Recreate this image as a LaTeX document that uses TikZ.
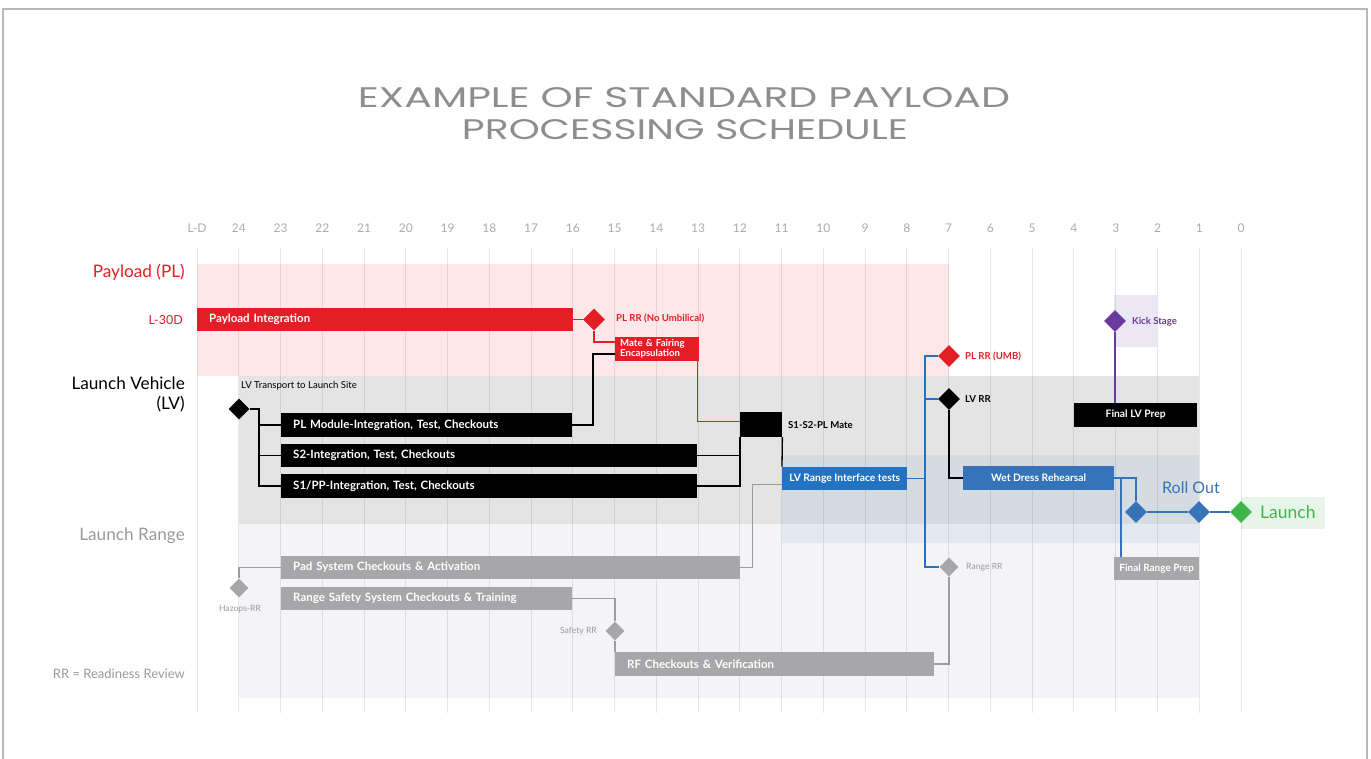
\documentclass[tikz,border=0pt]{standalone}
\usepackage{fontspec}
\usepackage{graphicx}
\setmainfont{Lato}
\newfontfamily\titlefont{Poppins}
\usetikzlibrary{shapes.geometric,calc}
\definecolor{plred}{HTML}{E41E26}
\definecolor{pinkband}{HTML}{FDE7E9}
\definecolor{grayband}{HTML}{E4E4E4}
\definecolor{rangeband}{HTML}{F4F4F7}
\definecolor{lvblue}{HTML}{2373C2}
\definecolor{wdblue}{HTML}{3574B8}
\definecolor{bargray}{HTML}{A7A7AA}
\definecolor{linegray}{HTML}{9C9C9F}
\definecolor{txtgray}{HTML}{9A9A9C}
\definecolor{axisgray}{HTML}{ABABAD}
\definecolor{kpurple}{HTML}{6B3A9E}
\definecolor{lavender}{HTML}{ECE8F3}
\definecolor{lgreen}{HTML}{3DB54A}
\definecolor{lgreenbg}{HTML}{E7F5E8}
\definecolor{titlegray}{HTML}{8E8E91}
\begin{document}
\begin{tikzpicture}[x=1pt,y=-1pt,
  bar/.style={rectangle, anchor=west, minimum height=23.5pt, inner ysep=0pt, inner xsep=12pt, text=white, font=\bfseries\fontsize{11.5}{13}\selectfont, align=left},
  cbar/.style={rectangle, anchor=west, minimum height=23.5pt, inner sep=1pt, text=white, font=\bfseries\fontsize{10.3}{12}\selectfont, align=center},
  dia/.style={diamond, aspect=1, minimum width=22pt, minimum height=22pt, inner sep=0pt},
  sdia/.style={diamond, aspect=1, minimum width=19pt, minimum height=19pt, inner sep=0pt},
  lbl/.style={anchor=west, inner sep=0pt, font=\bfseries\fontsize{9.6}{11}\selectfont},
  sect/.style={anchor=east, inner sep=0pt, font=\fontsize{17.2}{19.5}\selectfont},
  axis/.style={inner sep=0pt, text=axisgray, font=\fontsize{12}{13}\selectfont},
  con/.style={line width=1.3pt},
]
\useasboundingbox (0,0) rectangle (1371,758);
% frame
\draw[color=black!28, line width=1.2pt] (3,760) -- (3,9) -- (1367,9) -- (1367,760);
% title
\node[inner sep=0pt, text=titlegray] (title1) at (684,98) {\resizebox{652pt}{20pt}{\titlefont EXAMPLE OF STANDARD PAYLOAD}};
\node[inner sep=0pt, text=titlegray] (title2) at (685,130) {\resizebox{446pt}{20pt}{\titlefont PROCESSING SCHEDULE}};
% bands
\fill[pinkband] (197,264) rectangle (949,376);
\fill[grayband] (239,376) rectangle (1199,524);
\fill[rangeband] (239,524) rectangle (1199,698);
\fill[fill=lvblue, fill opacity=0.08] (782,455) rectangle (1199,543);
\fill[lavender] (1114,295) rectangle (1157,347);
\fill[lgreenbg] (1241,497) rectangle (1325,529);
% grid lines and axis labels
\foreach \d/\t in {25/L-D,24/24,23/23,22/22,21/21,20/20,19/19,18/18,17/17,16/16,15/15,14/14,13/13,12/12,11/11,10/10,9/9,8/8,7/7,6/6,5/5,4/4,3/3,2/2,1/1,0/0}{
  \draw[black, opacity=0.09, line width=1pt] ({1241-41.76*\d},248) -- ({1241-41.76*\d},713);
  \node[axis] (ax\d) at ({1241-41.76*\d},228) {\t};
}
% section labels
\node[sect, text=plred] (secPL) at (185,272) {Payload (PL)};
\node[anchor=east, inner sep=0pt, text=plred, font=\fontsize{12.5}{14}\selectfont] (l30) at (183,320) {L-30D};
\node[sect, text=black, align=right] (secLV) at (185,394.5) {Launch Vehicle\\(LV)};
\node[sect, text=txtgray] (secLR) at (185,536) {Launch Range};
\node[anchor=east, inner sep=0pt, text=txtgray, font=\fontsize{13}{15}\selectfont] (rrkey) at (185,674) {RR = Readiness Review};
% payload
\node[bar, fill=plred, text width=352pt] (PI) at (197,319.5) {Payload Integration};
\node[dia, fill=plred] (PLRR) at (594,319.5) {};
\node[lbl, text=plred] (PLRRl) at (616,318) {PL RR (No Umbilical)};
\node[rectangle, anchor=west, minimum height=24pt, minimum width=84pt, text width=74pt, inner xsep=5pt, inner ysep=0pt, fill=plred, text=white, font=\bfseries\fontsize{9.6}{10.2}\selectfont, align=left] (Mate) at (615,349) {Mate \& Fairing\\Encapsulation};
% launch vehicle
\node[sdia, fill=black, minimum width=21pt, minimum height=21pt] (LVT) at (239,409) {};
\node[lbl, text=black, font=\fontsize{9.6}{11}\selectfont] (LVTl) at (241,386) {LV Transport to Launch Site};
\node[bar, fill=black, text width=267pt] (PLM) at (281,425) {PL Module-Integration, Test, Checkouts};
\node[bar, fill=black, text width=392pt] (S2) at (281,455.5) {S2-Integration, Test, Checkouts};
\node[bar, fill=black, text width=392pt] (S1) at (281,486) {S1/PP-Integration, Test, Checkouts};
\node[cbar, fill=black, minimum width=42pt, minimum height=25pt] (SSM) at (740,424.5) {};
\node[lbl, text=black] (SSMl) at (788,425) {S1-S2-PL Mate};
\node[cbar, fill=lvblue, minimum width=125pt] (LVR) at (782,478.5) {LV Range Interface tests};
\node[dia, fill=plred] (PLRRU) at (949,356) {};
\node[lbl, text=plred] (PLRRUl) at (965,356) {PL RR (UMB)};
\node[dia, fill=black] (LVRR) at (949,399) {};
\node[lbl, text=black] (LVRRl) at (965,399) {LV RR};
\node[cbar, fill=wdblue, minimum width=151pt, minimum height=24pt] (WDR) at (963,478) {Wet Dress Rehearsal};
\node[cbar, fill=black, minimum width=123pt, minimum height=24pt] (FLV) at (1074,415) {Final LV Prep};
\node[dia, fill=kpurple] (KS) at (1115,321) {};
\node[lbl, text=kpurple] (KSl) at (1132,321.5) {Kick Stage};
\node[dia, fill=wdblue] (RO1) at (1136,512) {};
\node[dia, fill=wdblue] (RO2) at (1199,512) {};
\node[dia, fill=lgreen] (LCH) at (1241,512) {};
\node[inner sep=0pt, text=wdblue, font=\fontsize{16}{18}\selectfont] (ROl) at (1191,488) {Roll Out};
\node[anchor=west, inner sep=0pt, text=lgreen, font=\fontsize{17.5}{20}\selectfont] (LCHl) at (1260,512) {Launch};
% launch range
\node[sdia, fill=bargray] (HZ) at (239,588) {};
\node[inner sep=0pt, text=txtgray, font=\fontsize{8.6}{10}\selectfont] (HZl) at (240,609) {Hazops-RR};
\node[bar, fill=bargray, text width=435pt] (Pad) at (281,567.5) {Pad System Checkouts \& Activation};
\node[bar, fill=bargray, text width=267pt] (RSS) at (281,598.5) {Range Safety System Checkouts \& Training};
\node[sdia, fill=bargray] (SRR) at (615,631) {};
\node[anchor=east, inner sep=0pt, text=txtgray, font=\fontsize{8.6}{10}\selectfont] (SRRl) at (597,631) {Safety RR};
\node[bar, fill=bargray, text width=295pt] (RF) at (615,664) {RF Checkouts \& Verification};
\node[sdia, fill=bargray] (RRR) at (949,567) {};
\node[lbl, text=txtgray, font=\fontsize{8.6}{10}\selectfont] (RRRl) at (966,567) {Range RR};
\node[cbar, fill=bargray, minimum width=85pt, minimum height=23pt, font=\bfseries\fontsize{10}{12}\selectfont] (FRP) at (1114,568.5) {Final Range Prep};
% connectors: payload
\draw[con, plred] (PI.east) -- (PLRR.west);
\draw[con, plred] (PLRR.south) |- ($(Mate.west)+(0,-7)$);
\draw[con, plred] ($(Mate.south east)+(-2,0)$) |- ($(SSM.west)+(0,-3)$);
% connectors: LV
\coordinate (lvtj) at (259,409);
\draw[con, black] (LVT.east) -- (lvtj) |- (S1.west);
\draw[con, black] (lvtj |- PLM.west) -- (PLM.west);
\draw[con, black] (lvtj |- S2.west) -- (S2.west);
\draw[con, black] (PLM.east) -| (593,354) -- ($(Mate.west)+(0,5)$);
\draw[con, black] (S2.east) -- (S2.east -| SSM.west);
\draw[con, black] (S1.east) -| (SSM.south west);
\draw[con, black] (SSM.south east) -- (LVR.north west);
\draw[con, linegray] (Pad.east) -- ++(12,0) |- ($(LVR.west)+(0,6)$);
\coordinate (bj) at (925,478.5);
\draw[con, lvblue] (LVR.east) -- (bj);
\draw[con, lvblue] (PLRRU.west) -| (bj) |- (RRR.west);
\draw[con, lvblue] (LVRR.west) -- (LVRR.west -| bj);
\draw[con, black] (LVRR.south) |- (WDR.west);
\draw[con, wdblue] (WDR.east) -| (RO1.north);
\coordinate (wj) at (1121,478);
\draw[con, wdblue] (wj) -- (wj |- FRP.north);
\draw[con, wdblue] (RO1.east) -- (RO2.west);
\draw[con, wdblue] (RO2.east) -- (LCH.west);
\draw[con, kpurple] (KS.south) -- (KS.south |- FLV.north);
% connectors: range
\draw[con, linegray] (HZ.north) |- (Pad.west);
\draw[con, linegray] (RSS.east) -| (SRR.north);
\draw[con, linegray] (SRR.south) -- (RF.north west);
\draw[con, linegray] (RRR.south) |- (RF.east);
\end{tikzpicture}
\end{document}
